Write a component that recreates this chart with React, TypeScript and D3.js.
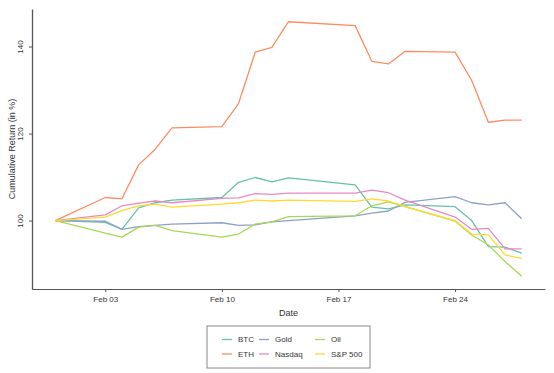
import React, { useRef, useEffect } from 'react';
import * as d3 from 'd3';

const dates = [
  '2025-01-31', '2025-02-03', '2025-02-04', '2025-02-05', '2025-02-06', '2025-02-07',
  '2025-02-10', '2025-02-11', '2025-02-12', '2025-02-13', '2025-02-14',
  '2025-02-18', '2025-02-19', '2025-02-20', '2025-02-21',
  '2025-02-24', '2025-02-25', '2025-02-26', '2025-02-27', '2025-02-28',
];

const btc = [100, 99.6, 98.0, 102.9, 104.1, 104.7, 105.3, 108.8, 109.9, 108.9, 109.8, 108.2, 103.1, 102.7, 103.6, 103.2, 100.0, 94.0, 93.9, 92.5];
const eth = [100, 105.3, 105.0, 112.8, 116.4, 121.3, 121.6, 126.9, 138.7, 139.8, 145.7, 144.8, 136.6, 136.0, 138.9, 138.7, 132.2, 122.6, 123.1, 123.1];
const gold = [100, 99.85, 98.0, 98.6, 98.9, 99.2, 99.5, 98.9, 99.0, 99.7, 100.0, 101.1, 101.7, 102.2, 104.2, 105.5, 104.1, 103.6, 104.1, 100.4];
const nasdaq = [100, 101.3, 103.4, 104.0, 104.5, 104.1, 105.1, 105.2, 106.2, 106.0, 106.3, 106.3, 107.0, 106.4, 104.7, 100.8, 98.0, 98.2, 93.5, 93.5];
const oil = [100, 97.1, 96.2, 98.5, 98.9, 97.7, 96.2, 96.9, 99.2, 99.7, 100.9, 101.1, 103.4, 104.3, 103.2, 99.85, 96.7, 94.4, 90.6, 87.2];
const sp500 = [100, 100.8, 102.3, 103.4, 103.8, 103.1, 103.8, 104.1, 104.7, 104.5, 104.7, 104.4, 105.0, 104.5, 103.2, 100.0, 96.9, 96.7, 92.1, 91.3];

const seriesNames = ['BTC', 'ETH', 'Gold', 'Nasdaq', 'Oil', 'S&P 500'];
const seriesValues = [btc, eth, gold, nasdaq, oil, sp500];
const colors = ['#66c2a5', '#fc8d62', '#8da0cb', '#e78ac3', '#a6d854', '#ffd92f'];

const yTicks = [100, 120, 140];
const xTickDates = ['2025-02-03', '2025-02-10', '2025-02-17', '2025-02-24'];

const W = 554;
const H = 373;
const margin = { left: 32, right: 9, top: 9, bottom: 84 };
const FONT = '"Liberation Sans", Arial, sans-serif';

function App() {
  const svgRef = useRef<SVGSVGElement>(null);

  useEffect(() => {
    const svg = d3.select(svgRef.current);
    svg.selectAll('*').remove();

    const parse = d3.timeParse('%Y-%m-%d');
    const xs = dates.map((d) => parse(d) as Date);

    // x domain padded by 5% each side
    const [x0, x1] = d3.extent(xs) as [Date, Date];
    const xPad = (x1.getTime() - x0.getTime()) * 0.05;
    const xScale = d3.scaleTime()
      .domain([new Date(x0.getTime() - xPad), new Date(x1.getTime() + xPad)])
      .range([margin.left, W - margin.right]);

    const allVals = seriesValues.flat();
    const yMin = d3.min(allVals) as number;
    const yMax = d3.max(allVals) as number;
    const yPad = (yMax - yMin) * 0.05;
    const yScale = d3.scaleLinear()
      .domain([yMin - yPad, yMax + yPad])
      .range([H - margin.bottom, margin.top]);

    const plotBottom = H - margin.bottom;

    // lines
    const line = d3.line<number>()
      .x((_, i) => xScale(xs[i]))
      .y((v) => yScale(v));

    svg.append('g')
      .selectAll('path')
      .data(seriesValues)
      .join('path')
      .attr('d', (d) => line(d))
      .attr('fill', 'none')
      .attr('stroke', (_, i) => colors[i])
      .attr('stroke-width', 1.3)
      .attr('stroke-linejoin', 'round');

    // x axis
    const xAxis = d3.axisBottom(xScale)
      .tickValues(xTickDates.map((d) => parse(d) as Date))
      .tickFormat(d3.timeFormat('%b %d') as any)
      .tickSize(3)
      .tickSizeOuter(0);
    const gx = svg.append('g')
      .attr('transform', `translate(0,${plotBottom})`)
      .call(xAxis);
    gx.select('.domain').attr('stroke', '#555').attr('stroke-width', 1);
    gx.selectAll('.tick line').attr('stroke', '#555');
    gx.selectAll('.tick text')
      .attr('fill', '#333')
      .attr('font-size', 8)
      .attr('font-family', FONT)
      .attr('dy', '0.9em');

    // y axis
    const yAxis = d3.axisLeft(yScale)
      .tickValues(yTicks)
      .tickSize(3)
      .tickSizeOuter(0);
    const gy = svg.append('g')
      .attr('transform', `translate(${margin.left},0)`)
      .call(yAxis);
    gy.select('.domain').attr('stroke', '#555').attr('stroke-width', 1.3);
    gy.selectAll('.tick line').attr('stroke', '#555');
    gy.selectAll('.tick text')
      .attr('fill', '#333')
      .attr('font-size', 8)
      .attr('font-family', FONT)
      .attr('x', 0)
      .attr('dy', 0)
      .attr('text-anchor', 'middle')
      .attr('transform', 'translate(-9,0) rotate(-90)');

    // axis titles
    svg.append('text')
      .attr('x', (margin.left + W - margin.right) / 2)
      .attr('y', 316)
      .attr('text-anchor', 'middle')
      .attr('font-size', 9)
      .attr('font-family', FONT)
      .attr('fill', '#333')
      .text('Date');

    svg.append('text')
      .attr('transform', `translate(15,${(margin.top + plotBottom) / 2}) rotate(-90)`)
      .attr('text-anchor', 'middle')
      .attr('font-size', 9)
      .attr('font-family', FONT)
      .attr('fill', '#333')
      .text('Cumulative Return (in %)');

    // legend
    const legend = svg.append('g').attr('transform', 'translate(207,326)');
    legend.append('rect')
      .attr('width', 163)
      .attr('height', 42)
      .attr('fill', 'white')
      .attr('stroke', '#888')
      .attr('stroke-width', 1);

    const colX = [15, 52, 108];
    const rowY = [13.5, 28];
    seriesNames.forEach((name, i) => {
      const col = Math.floor(i / 2);
      const row = i % 2;
      const g = legend.append('g')
        .attr('transform', `translate(${colX[col]},${rowY[row]})`);
      g.append('line')
        .attr('x1', 0).attr('x2', 10)
        .attr('y1', 0).attr('y2', 0)
        .attr('stroke', colors[i])
        .attr('stroke-width', 1.3);
      g.append('text')
        .attr('x', 16)
        .attr('y', 0)
        .attr('dy', '0.35em')
        .attr('font-size', 8)
        .attr('font-family', FONT)
        .attr('fill', '#333')
        .text(name);
    });
  }, []);

  return (
    <svg
      ref={svgRef}
      width={W}
      height={H}
      style={{ position: 'absolute', left: 0, top: 0, background: 'white' }}
    />
  );
}

export default App;
